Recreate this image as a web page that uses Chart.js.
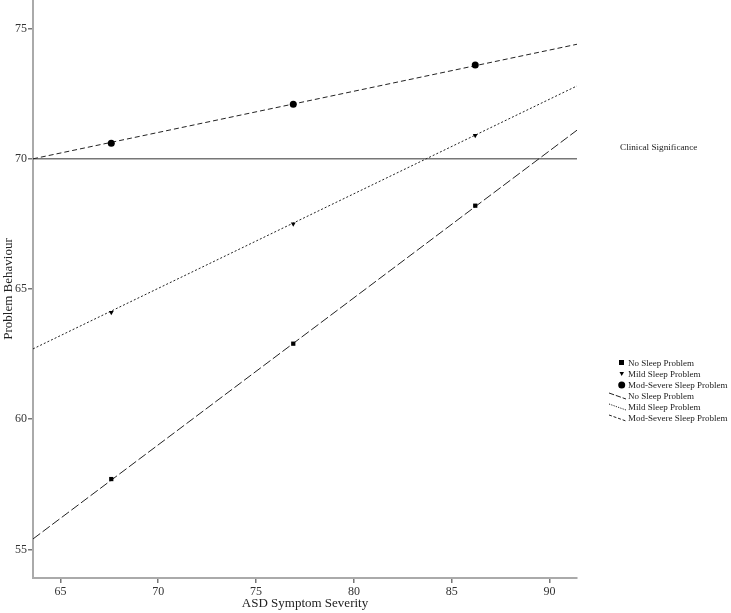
<!DOCTYPE html>
<html>
<head>
<meta charset="utf-8">
<script src="https://cdn.jsdelivr.net/npm/chart.js@4"></script>
<style>
  html, body { margin: 0; padding: 0; background: #fff; overflow: hidden; }
  #wrap { width: 731px; height: 613px; overflow: hidden; }
  #chart { display: block; margin-top: -4px; }
</style>
</head>
<body>
<div id="wrap"><canvas id="chart" width="731" height="617"></canvas></div>
<script>
// group means (ASD severity at -1SD, mean, +1SD)
const xMeans = [67.6, 76.9, 86.2];
const noSleep = [57.7, 62.9, 68.2];
const mildSleep = [64.1, 67.5, 70.9];
const modSevere = [70.6, 72.1, 73.6];

// fit line ends
const lineX = [63.6, 91.4];
const noSleepFit = [55.4, 71.1];
const mildFit = [62.7, 72.8];
const modSevereFit = [70.0, 74.4];

const clinicalCutoff = 70;
const xTicks = [65, 70, 75, 80, 85, 90];
const yTicks = [55, 60, 65, 70, 75];

const FONT = 'Liberation Serif';
const toPts = (xs, ys) => xs.map((x, i) => ({ x: x, y: ys[i] }));

const datasets = [
  { label: 'No Sleep Problem', type: 'scatter', data: toPts(xMeans, noSleep),
    pointStyle: 'rect', pointRadius: 3, backgroundColor: '#000', borderColor: '#000', borderWidth: 0, kind: 'marker' },
  { label: 'Mild Sleep Problem', type: 'scatter', data: toPts(xMeans, mildSleep),
    pointStyle: 'triangle', pointRotation: 180, pointRadius: 2.8, backgroundColor: '#000', borderColor: '#000', borderWidth: 0, kind: 'marker' },
  { label: 'Mod-Severe Sleep Problem', type: 'scatter', data: toPts(xMeans, modSevere),
    pointStyle: 'circle', pointRadius: 3.5, backgroundColor: '#000', borderColor: '#000', borderWidth: 0, kind: 'marker' },
  { label: 'No Sleep Problem', type: 'line', data: toPts(lineX, noSleepFit),
    borderColor: '#222', borderWidth: 1, borderDash: [9, 3], pointRadius: 0, kind: 'line' },
  { label: 'Mild Sleep Problem', type: 'line', data: toPts(lineX, mildFit),
    borderColor: '#222', borderWidth: 1, borderDash: [2, 2], pointRadius: 0, kind: 'line' },
  { label: 'Mod-Severe Sleep Problem', type: 'line', data: toPts(lineX, modSevereFit),
    borderColor: '#222', borderWidth: 1, borderDash: [5, 3], pointRadius: 0, kind: 'line' },
  { label: 'Clinical Significance', type: 'line', data: toPts(lineX, [clinicalCutoff, clinicalCutoff]),
    borderColor: '#777', borderWidth: 1.5, pointRadius: 0, kind: 'ref' }
];

// canvas sits 4px higher than the page, so page y = canvas y - 4
const OFF = 4;

const sideLabels = {
  id: 'sideLabels',
  afterDraw(chart) {
    const ctx = chart.ctx;
    const y = chart.scales.y;
    ctx.save();
    ctx.fillStyle = '#222';
    ctx.font = '9.2px "' + FONT + '"';
    ctx.textBaseline = 'middle';
    ctx.fillText('Clinical Significance', 620, y.getPixelForValue(clinicalCutoff) - 11);

    // legend
    ctx.font = '9px "' + FONT + '"';
    let row = 0;
    const top = 363 + OFF, step = 11;
    chart.data.datasets.forEach(ds => {
      if (ds.kind === 'ref') return;
      const cy = top + row * step;
      ctx.fillStyle = '#000';
      ctx.strokeStyle = '#222';
      if (ds.kind === 'marker') {
        ctx.beginPath();
        if (ds.pointStyle === 'rect') {
          ctx.fillRect(619, cy - 3, 5, 5);
        } else if (ds.pointStyle === 'triangle') {
          ctx.moveTo(619.5, cy - 2); ctx.lineTo(624, cy - 2); ctx.lineTo(621.7, cy + 2); ctx.closePath(); ctx.fill();
        } else {
          ctx.arc(621.7, cy, 3.5, 0, Math.PI * 2); ctx.fill();
        }
      } else {
        ctx.beginPath();
        ctx.lineWidth = 1;
        ctx.setLineDash(ds.borderDash.map(v => v * 0.6));
        ctx.moveTo(609, cy - 3);
        ctx.lineTo(626, cy + 3);
        ctx.stroke();
        ctx.setLineDash([]);
      }
      ctx.fillStyle = '#222';
      ctx.fillText(ds.label, 628, cy + 0.5);
      row++;
    });
    ctx.restore();
  }
};

new Chart(document.getElementById('chart'), {
  type: 'scatter',
  data: { datasets: datasets },
  options: {
    responsive: false,
    animation: false,
    layout: { padding: { top: 0, right: 154, bottom: 0, left: 0 } },
    plugins: {
      legend: { display: false },
      tooltip: { enabled: false }
    },
    scales: {
      x: {
        type: 'linear',
        min: 63.6,
        max: 91.4,
        afterBuildTicks: s => { s.ticks = xTicks.map(v => ({ value: v })); },
        afterFit: s => { s.height = 35; s.paddingLeft = 0; s.paddingRight = 0; },
        border: { display: true, color: '#aaa', width: 2 },
        grid: { drawOnChartArea: false, drawTicks: true, tickLength: 5, color: '#777', lineWidth: 1.5 },
        ticks: { color: '#333', font: { family: FONT, size: 12 }, padding: 2 },
        title: { display: true, text: 'ASD Symptom Severity', color: '#222', font: { family: FONT, size: 13 }, padding: { top: 0, bottom: 2 } }
      },
      y: {
        type: 'linear',
        min: 53.9,
        max: 76.1,
        afterBuildTicks: s => { s.ticks = yTicks.map(v => ({ value: v })); },
        afterFit: s => { s.width = 33; s.paddingTop = 0; s.paddingBottom = 0; },
        border: { display: true, color: '#aaa', width: 2 },
        grid: { drawOnChartArea: false, drawTicks: true, tickLength: 5, color: '#777', lineWidth: 1.5 },
        ticks: { color: '#333', font: { family: FONT, size: 12 }, padding: 1 },
        title: { display: true, text: 'Problem Behaviour', color: '#222', font: { family: FONT, size: 13 }, padding: { top: 1, bottom: 0 } }
      }
    }
  },
  plugins: [sideLabels]
});
</script>
</body>
</html>
